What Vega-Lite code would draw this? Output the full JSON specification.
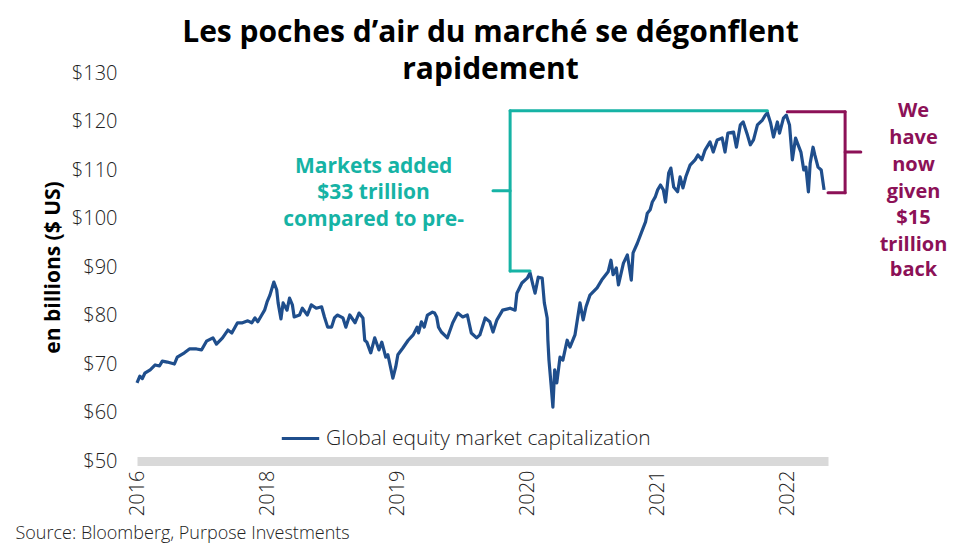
{
  "$schema": "https://vega.github.io/schema/vega-lite/v6.json",
  "width": 691,
  "height": 388,
  "autosize": {"type": "none"},
  "padding": {"left": 137, "top": 73, "right": 147, "bottom": 88},
  "background": "white",
  "config": {"view": {"stroke": null}, "font": "Open Sans"},
  "title": {
    "text": ["Les poches d’air du marché se dégonflent", "rapidement"],
    "font": "Open Sans",
    "fontSize": 30,
    "fontWeight": "bold",
    "color": "#000000",
    "anchor": "middle",
    "frame": "group",
    "lineHeight": 37,
    "offset": -22,
    "dx": 8
  },
  "datasets": {
    "mcap": [
      {"date": "2017-01-01", "value": 66.1},
      {"date": "2017-01-09", "value": 67.5},
      {"date": "2017-01-16", "value": 67.0},
      {"date": "2017-01-23", "value": 68.1},
      {"date": "2017-02-07", "value": 68.8},
      {"date": "2017-02-21", "value": 69.8},
      {"date": "2017-03-05", "value": 69.6},
      {"date": "2017-03-13", "value": 70.6},
      {"date": "2017-03-27", "value": 70.4},
      {"date": "2017-04-16", "value": 70.0},
      {"date": "2017-04-24", "value": 71.4},
      {"date": "2017-05-14", "value": 72.3},
      {"date": "2017-05-28", "value": 73.1},
      {"date": "2017-06-17", "value": 73.1},
      {"date": "2017-07-01", "value": 72.9},
      {"date": "2017-07-15", "value": 74.7},
      {"date": "2017-08-02", "value": 75.4},
      {"date": "2017-08-12", "value": 74.1},
      {"date": "2017-08-29", "value": 75.4},
      {"date": "2017-09-13", "value": 77.0},
      {"date": "2017-09-24", "value": 76.4},
      {"date": "2017-10-10", "value": 78.5},
      {"date": "2017-10-24", "value": 78.5},
      {"date": "2017-11-08", "value": 78.9},
      {"date": "2017-11-19", "value": 78.5},
      {"date": "2017-11-28", "value": 79.5},
      {"date": "2017-12-06", "value": 78.7},
      {"date": "2017-12-17", "value": 80.1},
      {"date": "2017-12-25", "value": 81.1},
      {"date": "2018-01-01", "value": 82.8},
      {"date": "2018-01-09", "value": 84.2},
      {"date": "2018-01-20", "value": 86.9},
      {"date": "2018-01-28", "value": 85.3},
      {"date": "2018-02-01", "value": 82.6},
      {"date": "2018-02-09", "value": 79.3},
      {"date": "2018-02-15", "value": 82.6},
      {"date": "2018-02-26", "value": 81.1},
      {"date": "2018-03-05", "value": 83.6},
      {"date": "2018-03-13", "value": 82.2},
      {"date": "2018-03-18", "value": 79.7},
      {"date": "2018-04-02", "value": 80.1},
      {"date": "2018-04-10", "value": 81.5},
      {"date": "2018-04-24", "value": 80.1},
      {"date": "2018-05-05", "value": 82.2},
      {"date": "2018-05-19", "value": 81.5},
      {"date": "2018-06-03", "value": 81.8},
      {"date": "2018-06-11", "value": 79.7},
      {"date": "2018-06-20", "value": 77.6},
      {"date": "2018-07-01", "value": 77.6},
      {"date": "2018-07-09", "value": 79.5},
      {"date": "2018-07-17", "value": 80.1},
      {"date": "2018-08-02", "value": 79.5},
      {"date": "2018-08-10", "value": 77.6},
      {"date": "2018-08-21", "value": 80.1},
      {"date": "2018-09-05", "value": 78.5},
      {"date": "2018-09-16", "value": 80.5},
      {"date": "2018-09-27", "value": 79.5},
      {"date": "2018-10-02", "value": 74.9},
      {"date": "2018-10-08", "value": 74.5},
      {"date": "2018-10-19", "value": 72.3},
      {"date": "2018-10-30", "value": 75.4},
      {"date": "2018-11-11", "value": 72.9},
      {"date": "2018-11-19", "value": 74.5},
      {"date": "2018-11-30", "value": 71.4},
      {"date": "2018-12-06", "value": 71.9},
      {"date": "2018-12-20", "value": 67.1},
      {"date": "2018-12-28", "value": 69.4},
      {"date": "2019-01-03", "value": 71.9},
      {"date": "2019-01-17", "value": 73.3},
      {"date": "2019-02-01", "value": 74.9},
      {"date": "2019-02-15", "value": 76.0},
      {"date": "2019-02-26", "value": 77.6},
      {"date": "2019-03-02", "value": 76.4},
      {"date": "2019-03-10", "value": 78.7},
      {"date": "2019-03-18", "value": 77.6},
      {"date": "2019-03-27", "value": 80.1},
      {"date": "2019-04-10", "value": 80.7},
      {"date": "2019-04-16", "value": 80.5},
      {"date": "2019-04-22", "value": 79.7},
      {"date": "2019-04-27", "value": 77.6},
      {"date": "2019-05-05", "value": 76.6},
      {"date": "2019-05-22", "value": 75.4},
      {"date": "2019-06-06", "value": 78.5},
      {"date": "2019-06-20", "value": 80.5},
      {"date": "2019-07-04", "value": 79.7},
      {"date": "2019-07-17", "value": 80.1},
      {"date": "2019-07-28", "value": 76.4},
      {"date": "2019-08-12", "value": 75.4},
      {"date": "2019-08-21", "value": 76.0},
      {"date": "2019-09-05", "value": 79.5},
      {"date": "2019-09-18", "value": 78.7},
      {"date": "2019-09-27", "value": 76.6},
      {"date": "2019-10-08", "value": 79.1},
      {"date": "2019-10-24", "value": 81.1},
      {"date": "2019-11-14", "value": 81.5},
      {"date": "2019-11-28", "value": 81.1},
      {"date": "2019-12-03", "value": 84.6},
      {"date": "2019-12-17", "value": 86.7},
      {"date": "2020-01-01", "value": 87.7},
      {"date": "2020-01-09", "value": 88.8},
      {"date": "2020-01-17", "value": 86.3},
      {"date": "2020-01-23", "value": 84.6},
      {"date": "2020-02-01", "value": 87.9},
      {"date": "2020-02-12", "value": 87.7},
      {"date": "2020-02-18", "value": 82.6},
      {"date": "2020-02-26", "value": 79.5},
      {"date": "2020-02-28", "value": 74.9},
      {"date": "2020-03-02", "value": 70.8},
      {"date": "2020-03-08", "value": 65.7},
      {"date": "2020-03-13", "value": 61.1},
      {"date": "2020-03-18", "value": 68.8},
      {"date": "2020-03-24", "value": 66.1},
      {"date": "2020-04-02", "value": 71.4},
      {"date": "2020-04-10", "value": 70.8},
      {"date": "2020-04-22", "value": 74.9},
      {"date": "2020-04-30", "value": 73.5},
      {"date": "2020-05-14", "value": 76.0},
      {"date": "2020-05-28", "value": 82.6},
      {"date": "2020-06-06", "value": 79.1},
      {"date": "2020-06-14", "value": 81.8},
      {"date": "2020-06-25", "value": 84.2},
      {"date": "2020-07-15", "value": 85.7},
      {"date": "2020-07-28", "value": 87.3},
      {"date": "2020-08-15", "value": 89.0},
      {"date": "2020-08-23", "value": 91.4},
      {"date": "2020-08-29", "value": 88.4},
      {"date": "2020-09-07", "value": 89.8},
      {"date": "2020-09-13", "value": 86.3},
      {"date": "2020-09-27", "value": 90.8},
      {"date": "2020-10-08", "value": 92.5},
      {"date": "2020-10-19", "value": 87.3},
      {"date": "2020-10-24", "value": 92.9},
      {"date": "2020-11-05", "value": 94.9},
      {"date": "2020-11-19", "value": 97.6},
      {"date": "2020-11-28", "value": 99.3},
      {"date": "2020-12-03", "value": 101.1},
      {"date": "2020-12-11", "value": 101.8},
      {"date": "2020-12-17", "value": 103.4},
      {"date": "2020-12-25", "value": 104.4},
      {"date": "2021-01-01", "value": 105.9},
      {"date": "2021-01-09", "value": 106.9},
      {"date": "2021-01-17", "value": 105.9},
      {"date": "2021-01-23", "value": 103.4},
      {"date": "2021-02-01", "value": 109.4},
      {"date": "2021-02-07", "value": 110.4},
      {"date": "2021-02-15", "value": 106.5},
      {"date": "2021-02-26", "value": 105.5},
      {"date": "2021-03-05", "value": 108.6},
      {"date": "2021-03-13", "value": 106.3},
      {"date": "2021-03-21", "value": 108.6},
      {"date": "2021-04-02", "value": 111.0},
      {"date": "2021-04-16", "value": 112.1},
      {"date": "2021-04-24", "value": 113.1},
      {"date": "2021-05-05", "value": 112.1},
      {"date": "2021-05-14", "value": 114.1},
      {"date": "2021-05-28", "value": 115.8},
      {"date": "2021-06-06", "value": 113.7},
      {"date": "2021-06-17", "value": 116.2},
      {"date": "2021-07-01", "value": 116.6},
      {"date": "2021-07-09", "value": 113.7},
      {"date": "2021-07-17", "value": 117.6},
      {"date": "2021-08-02", "value": 117.8},
      {"date": "2021-08-10", "value": 114.7},
      {"date": "2021-08-21", "value": 119.3},
      {"date": "2021-08-29", "value": 119.9},
      {"date": "2021-09-10", "value": 117.2},
      {"date": "2021-09-18", "value": 115.2},
      {"date": "2021-09-27", "value": 116.2},
      {"date": "2021-10-08", "value": 119.3},
      {"date": "2021-10-22", "value": 120.3},
      {"date": "2021-10-30", "value": 121.3},
      {"date": "2021-11-05", "value": 121.8},
      {"date": "2021-11-14", "value": 119.7},
      {"date": "2021-11-22", "value": 116.8},
      {"date": "2021-12-03", "value": 119.9},
      {"date": "2021-12-09", "value": 117.6},
      {"date": "2021-12-20", "value": 120.7},
      {"date": "2021-12-28", "value": 121.3},
      {"date": "2022-01-06", "value": 119.3},
      {"date": "2022-01-14", "value": 112.1},
      {"date": "2022-01-23", "value": 116.6},
      {"date": "2022-01-28", "value": 115.6},
      {"date": "2022-02-07", "value": 113.7},
      {"date": "2022-02-15", "value": 110.0},
      {"date": "2022-02-21", "value": 110.6},
      {"date": "2022-02-28", "value": 105.5},
      {"date": "2022-03-05", "value": 111.4},
      {"date": "2022-03-13", "value": 114.7},
      {"date": "2022-03-18", "value": 113.1},
      {"date": "2022-03-27", "value": 110.6},
      {"date": "2022-04-05", "value": 110.0},
      {"date": "2022-04-13", "value": 105.9}
    ],
    "brackets": [
      {"bracket": "added", "x1": "2021-11-05", "x2": "2019-11-14", "y1": 122.2, "y2": 122.2},
      {"bracket": "added", "x1": "2019-11-14", "x2": "2019-11-14", "y1": 122.2, "y2": 89.2},
      {"bracket": "added", "x1": "2019-11-14", "x2": "2020-01-09", "y1": 89.2, "y2": 89.2},
      {"bracket": "added", "x1": "2019-09-27", "x2": "2019-11-14", "y1": 105.7, "y2": 105.7},
      {"bracket": "back", "x1": "2021-12-31", "x2": "2022-06-11", "y1": 122.0, "y2": 122.0},
      {"bracket": "back", "x1": "2022-06-11", "x2": "2022-06-11", "y1": 122.0, "y2": 105.3},
      {"bracket": "back", "x1": "2022-04-24", "x2": "2022-06-11", "y1": 105.3, "y2": 105.3},
      {"bracket": "back", "x1": "2022-06-11", "x2": "2022-07-25", "y1": 113.7, "y2": 113.7}
    ],
    "notes": [
      {"note": "added", "line": "Markets added", "date": "2018-10-27", "value": 110.6},
      {"note": "added", "line": "$33 trillion", "date": "2018-10-27", "value": 105.3},
      {"note": "added", "line": "compared to pre-", "date": "2018-10-27", "value": 99.7},
      {"note": "back", "line": "We", "date": "2022-12-20", "value": 122.2},
      {"note": "back", "line": "have", "date": "2022-12-20", "value": 116.6},
      {"note": "back", "line": "now", "date": "2022-12-20", "value": 111.0},
      {"note": "back", "line": "given", "date": "2022-12-20", "value": 105.5},
      {"note": "back", "line": "$15", "date": "2022-12-20", "value": 100.1},
      {"note": "back", "line": "trillion", "date": "2022-12-20", "value": 94.5},
      {"note": "back", "line": "back", "date": "2022-12-20", "value": 89.4}
    ]
  },
  "encoding": {
    "x": {
      "type": "temporal",
      "scale": {"domain": [{"year": 2017, "month": 1, "date": 1, "utc": true}, {"year": 2022, "month": 4, "date": 24, "utc": true}]},
      "axis": {
        "values": [
          {"year": 2017, "month": 1, "date": 1, "utc": true},
          {"year": 2018, "month": 1, "date": 1, "utc": true},
          {"year": 2019, "month": 1, "date": 1, "utc": true},
          {"year": 2020, "month": 1, "date": 1, "utc": true},
          {"year": 2021, "month": 1, "date": 1, "utc": true},
          {"year": 2022, "month": 1, "date": 1, "utc": true}
        ],
        "labelExpr": "utcFormat(datum.value, '%Y') == '2017' ? '2016' : utcFormat(datum.value, '%Y')",
        "labelAngle": -90,
        "labelFont": "Open Sans",
        "labelFontWeight": 300,
        "labelFontSize": 20,
        "labelColor": "#222222",
        "labelPadding": 9,
        "labelFlush": false,
        "labelOverlap": false,
        "ticks": false,
        "grid": false,
        "domainColor": "#d9d9d9",
        "domainWidth": 9,
        "title": "Source: Bloomberg, Purpose Investments",
        "titleFont": "Open Sans",
        "titleFontWeight": 300,
        "titleFontSize": 18,
        "titleColor": "#222222",
        "titleAnchor": "start",
        "titleAlign": "left",
        "titleBaseline": "middle",
        "titleX": -122,
        "titleY": 72
      }
    },
    "y": {
      "type": "quantitative",
      "scale": {"domain": [50, 130]},
      "axis": {
        "values": [50, 60, 70, 80, 90, 100, 110, 120, 130],
        "labelExpr": "'$' + datum.value",
        "labelFont": "Open Sans",
        "labelFontWeight": 300,
        "labelFontSize": 20,
        "labelColor": "#222222",
        "labelPadding": 20,
        "ticks": false,
        "grid": false,
        "domain": false,
        "title": "en billions ($ US)",
        "titleFont": "Open Sans",
        "titleFontWeight": "bold",
        "titleFontSize": 21,
        "titleColor": "#000000",
        "titlePadding": 8
      }
    }
  },
  "layer": [
    {
      "data": {"name": "mcap"},
      "mark": {"type": "line", "strokeWidth": 3.2, "strokeJoin": "round"},
      "encoding": {
        "x": {"field": "date", "type": "temporal"},
        "y": {"field": "value", "type": "quantitative"},
        "color": {
          "datum": "Global equity market capitalization",
          "type": "nominal",
          "scale": {"range": ["#1f4e8c"]},
          "legend": {
            "title": null,
            "orient": "none",
            "legendX": 143,
            "legendY": 345,
            "symbolType": "stroke",
            "symbolStrokeWidth": 3,
            "symbolSize": 1400,
            "labelFont": "Open Sans",
            "labelFontWeight": 300,
            "labelFontSize": 21,
            "labelColor": "#222222",
            "labelOffset": 5,
            "labelLimit": 0,
            "padding": 0
          }
        }
      }
    },
    {
      "data": {"name": "brackets"},
      "transform": [{"filter": "datum.bracket == 'added'"}],
      "mark": {"type": "rule", "color": "#16b3a5", "strokeWidth": 3, "strokeCap": "round"},
      "encoding": {
        "x": {"field": "x1", "type": "temporal"},
        "x2": {"field": "x2"},
        "y": {"field": "y1", "type": "quantitative"},
        "y2": {"field": "y2"}
      }
    },
    {
      "data": {"name": "brackets"},
      "transform": [{"filter": "datum.bracket == 'back'"}],
      "mark": {"type": "rule", "color": "#8c1157", "strokeWidth": 3, "strokeCap": "round"},
      "encoding": {
        "x": {"field": "x1", "type": "temporal"},
        "x2": {"field": "x2"},
        "y": {"field": "y1", "type": "quantitative"},
        "y2": {"field": "y2"}
      }
    },
    {
      "data": {"name": "notes"},
      "transform": [{"filter": "datum.note == 'added'"}],
      "mark": {"type": "text", "color": "#16b3a5", "font": "Open Sans", "fontWeight": "bold", "fontSize": 21, "align": "center", "baseline": "middle"},
      "encoding": {
        "x": {"field": "date", "type": "temporal"},
        "y": {"field": "value", "type": "quantitative"},
        "text": {"field": "line", "type": "nominal"}
      }
    },
    {
      "data": {"name": "notes"},
      "transform": [{"filter": "datum.note == 'back'"}],
      "mark": {"type": "text", "color": "#8c1157", "font": "Open Sans", "fontWeight": "bold", "fontSize": 20, "align": "center", "baseline": "middle"},
      "encoding": {
        "x": {"field": "date", "type": "temporal"},
        "y": {"field": "value", "type": "quantitative"},
        "text": {"field": "line", "type": "nominal"}
      }
    }
  ]
}
